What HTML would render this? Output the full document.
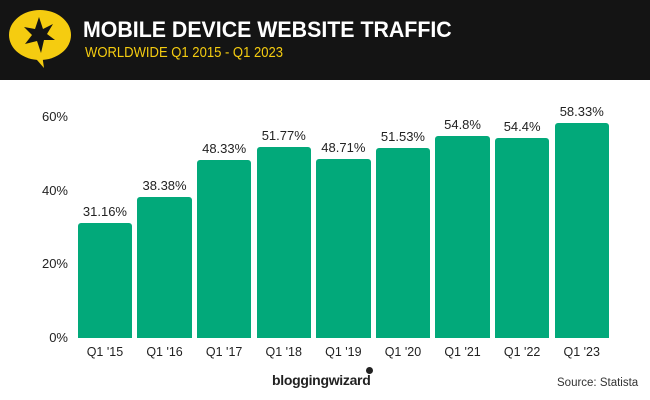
<!DOCTYPE html>
<html><head><style>
body{margin:0;width:650px;height:400px;background:#fff;position:relative;overflow:hidden;font-family:"Liberation Sans",sans-serif}
.hdr{position:absolute;left:0;top:0;width:650px;height:80px;background:#141414}
.t{position:absolute;left:83px;top:17px;color:#fff;font-weight:bold;font-size:22px;transform:scaleX(0.97);transform-origin:left}
.s{position:absolute;left:85px;top:44px;color:#f5cc10;font-size:15px;transform:scaleX(0.87);transform-origin:left}
.bar{position:absolute;background:#02a97a;border-radius:3px 3px 0 0;width:54.5px}
.v{position:absolute;width:80px;text-align:center;font-size:13px;color:#222}
.x{position:absolute;width:80px;text-align:center;font-size:12.5px;color:#222;top:345px}
.y{position:absolute;left:22px;width:46px;text-align:right;font-size:13px;color:#222}
</style></head><body>
<div class="hdr">
<svg width="80" height="80" style="position:absolute;left:0;top:0">
<ellipse cx="40" cy="35" rx="31" ry="25" fill="#f5cc10"/>
<path d="M30 52 L44 68 L42 54 Z" fill="#f5cc10"/>
<path d="M39 17 L43 29 L53 24 L47 34 L55 40 L44 40 L41 53 L37 41 L25 44 L32 35 L24 27 L35 29 Z" fill="#141414"/>
</svg>
<div class="t">MOBILE DEVICE WEBSITE TRAFFIC</div>
<div class="s">WORLDWIDE Q1 2015 - Q1 2023</div>
</div>
<div class="y" style="top:109px">60%</div>
<div class="y" style="top:183px">40%</div>
<div class="y" style="top:256px">20%</div>
<div class="y" style="top:330px">0%</div>
<div id="c"></div>
<div style="position:absolute;left:272px;top:372px;font-size:14px;font-weight:bold;color:#222;letter-spacing:-0.3px">bloggingwizard</div>
<div style="position:absolute;left:366px;top:367px;width:7px;height:7px;border-radius:50%;background:#222"></div>
<div style="position:absolute;left:557px;top:377px;font-size:11.5px;color:#333">Source: Statista</div>
<script>
var d=[31.16,38.38,48.33,51.77,48.71,51.53,54.8,54.4,58.33],l=["Q1 '15","Q1 '16","Q1 '17","Q1 '18","Q1 '19","Q1 '20","Q1 '21","Q1 '22","Q1 '23"],h="";
d.forEach(function(v,i){var x=77.7+i*59.6,top=338-v*3.683;
h+='<div class="bar" style="left:'+x+'px;top:'+top+'px;height:'+(338-top)+'px"></div>';
h+='<div class="v" style="left:'+(x-12.75)+'px;top:'+(top-19)+'px">'+v+'%</div>';
h+='<div class="x" style="left:'+(x-12.75)+'px">'+l[i]+'</div>';});
document.getElementById('c').innerHTML=h;
</script>
</body></html>
